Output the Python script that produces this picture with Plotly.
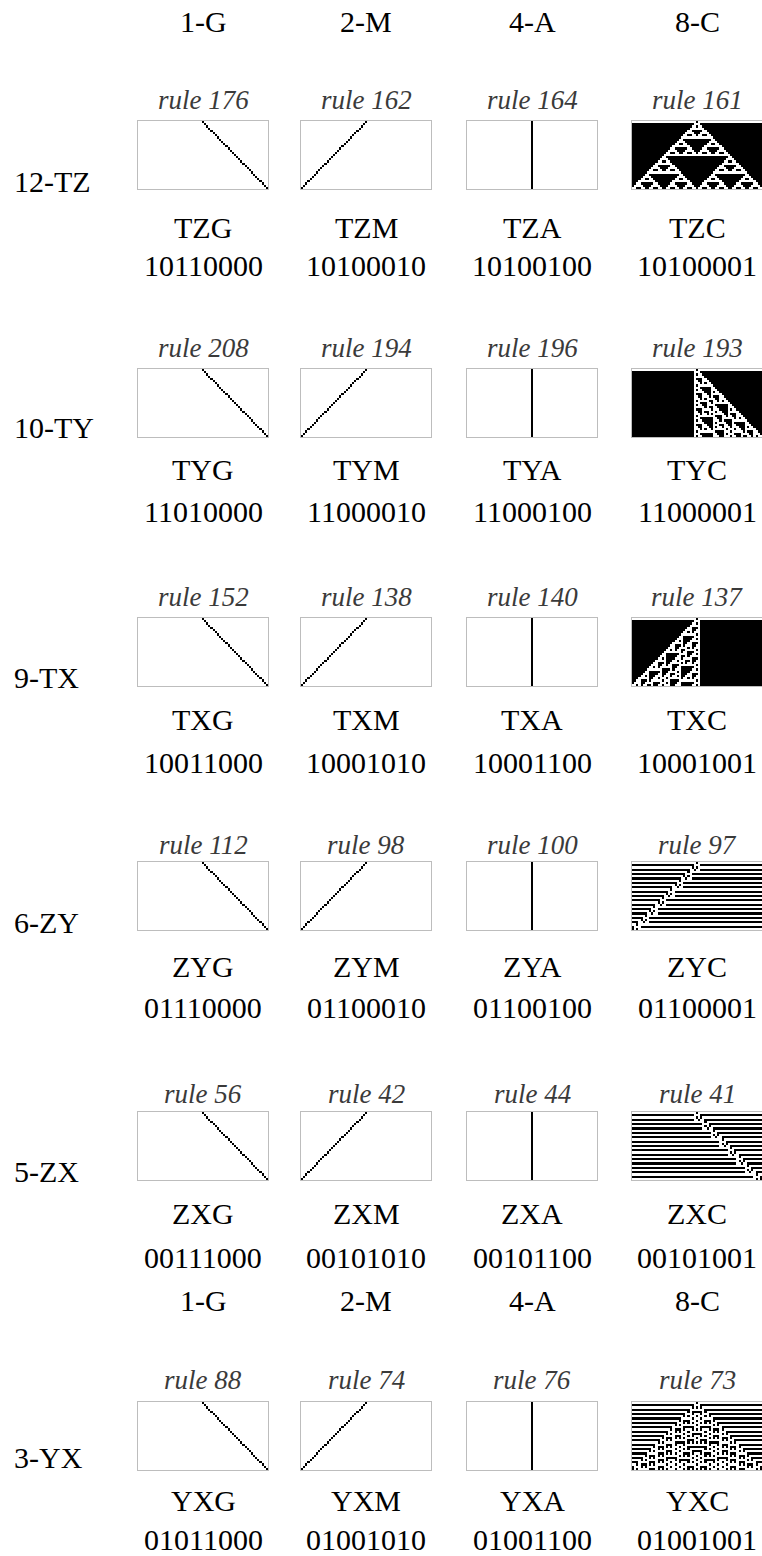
import numpy as np
import plotly.graph_objects as go

W, H = 762, 1556

# ---- data ----
col_heads = ["1-G", "2-M", "4-A", "8-C"]
row_heads = ["12-TZ", "10-TY", "9-TX", "6-ZY", "5-ZX", "3-YX"]
rules = [
    [176, 162, 164, 161],
    [208, 194, 196, 193],
    [152, 138, 140, 137],
    [112, 98, 100, 97],
    [56, 42, 44, 41],
    [88, 74, 76, 73],
]
names = [
    ["TZG", "TZM", "TZA", "TZC"],
    ["TYG", "TYM", "TYA", "TYC"],
    ["TXG", "TXM", "TXA", "TXC"],
    ["ZYG", "ZYM", "ZYA", "ZYC"],
    ["ZXG", "ZXM", "ZXA", "ZXC"],
    ["YXG", "YXM", "YXA", "YXC"],
]
codes = [
    ["10110000", "10100010", "10100100", "10100001"],
    ["11010000", "11000010", "11000100", "11000001"],
    ["10011000", "10001010", "10001100", "10001001"],
    ["01110000", "01100010", "01100100", "01100001"],
    ["00111000", "00101010", "00101100", "00101001"],
    ["01011000", "01001010", "01001100", "01001001"],
]

# ---- layout (pixels) ----
col_cx = [203, 366, 532, 697]
box_w, box_h = 130, 68
box_top = [121, 369, 618, 862, 1112, 1402]
rule_y = [100, 348, 597, 845, 1094, 1380]
name_y = [227, 470, 719, 967, 1213, 1500]
code_y = [266, 512, 762, 1007, 1257, 1539]
label_y = [182, 427, 677, 922, 1171, 1457]
head_y = [22, 1300]

NCOL, NROW = 61, 31


def evolve(rule, ncol=NCOL, nrow=NROW):
    pad = nrow + 2
    width = ncol + 2 * pad
    table = [(rule >> i) & 1 for i in range(8)]
    row = np.zeros(width, dtype=int)
    row[width // 2] = 1
    out = [row.copy()]
    for _ in range(nrow - 1):
        l = np.roll(row, 1)
        r = np.roll(row, -1)
        idx = 4 * l + 2 * row + r
        row = np.array([table[k] for k in idx])
        out.append(row.copy())
    g = np.array(out)
    c0 = width // 2 - ncol // 2
    return g[:, c0:c0 + ncol]


def px(x):
    return x / W


def py(y):
    return 1 - y / H


fig = go.Figure()
annotations = []
serif = "Liberation Serif, Times New Roman, serif"

k = 0
for i in range(len(row_heads)):
    for j in range(len(col_heads)):
        k += 1
        xa = "x" if k == 1 else f"x{k}"
        ya = "y" if k == 1 else f"y{k}"
        z = evolve(rules[i][j])
        fig.add_trace(go.Heatmap(
            z=z, xaxis=xa, yaxis=ya, showscale=False, zmin=0, zmax=1,
            colorscale=[[0, "#ffffff"], [1, "#000000"]], hoverinfo="skip",
        ))
        x0 = col_cx[j] - box_w / 2
        x1 = min(col_cx[j] + box_w / 2, W)
        y0 = box_top[i]
        y1 = box_top[i] + box_h
        axcommon = dict(showgrid=False, zeroline=False, showticklabels=False,
                        ticks="", showline=True, mirror=True,
                        linecolor="#bdbdbd", linewidth=1)
        fig.update_layout(**{
            ("xaxis" if k == 1 else f"xaxis{k}"): dict(
                domain=[px(x0), px(x1)], range=[-0.5, NCOL - 0.5],
                anchor=ya, **axcommon),
            ("yaxis" if k == 1 else f"yaxis{k}"): dict(
                domain=[py(y1), py(y0)], range=[NROW - 0.5, -0.5],
                anchor=xa, **axcommon),
        })
        annotations.append(dict(
            text=f"rule {rules[i][j]}", x=px(col_cx[j]), y=py(rule_y[i]),
            xref="paper", yref="paper", showarrow=False,
            xanchor="center", yanchor="middle",
            font=dict(family=serif, size=27, color="#3a3a3a", style="italic"),
        ))
        annotations.append(dict(
            text=names[i][j], x=px(col_cx[j]), y=py(name_y[i]),
            xref="paper", yref="paper", showarrow=False,
            xanchor="center", yanchor="middle",
            font=dict(family=serif, size=30, color="#000000"),
        ))
        annotations.append(dict(
            text=codes[i][j], x=px(col_cx[j]), y=py(code_y[i]),
            xref="paper", yref="paper", showarrow=False,
            xanchor="center", yanchor="middle",
            font=dict(family=serif, size=30, color="#000000"),
        ))
    annotations.append(dict(
        text=row_heads[i], x=px(12), y=py(label_y[i]),
        xref="paper", yref="paper", showarrow=False,
        xanchor="left", yanchor="middle",
        font=dict(family=serif, size=30, color="#000000"),
    ))

for hy in head_y:
    for j in range(len(col_heads)):
        annotations.append(dict(
            text=col_heads[j], x=px(col_cx[j]), y=py(hy),
            xref="paper", yref="paper", showarrow=False,
            xanchor="center", yanchor="middle",
            font=dict(family=serif, size=30, color="#000000"),
        ))

fig.update_layout(
    width=W, height=H, margin=dict(l=0, r=0, t=0, b=0),
    paper_bgcolor="white", plot_bgcolor="white",
    showlegend=False, annotations=annotations,
)

fig.write_html(
    "out.html",
    config={"displayModeBar": False},
    post_script="document.body.style.margin='0';document.body.style.overflow='hidden';",
)
